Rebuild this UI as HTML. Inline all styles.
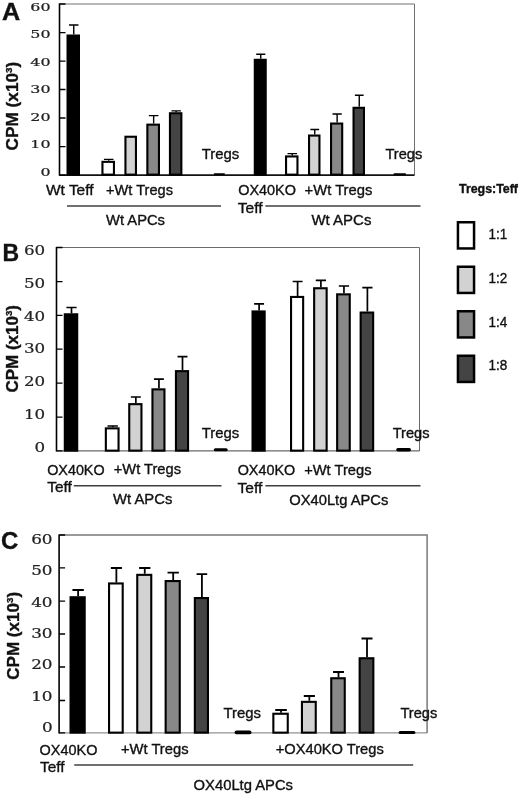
<!DOCTYPE html>
<html lang="en"><head><meta charset="utf-8"><title>Figure</title>
<style>
html,body{margin:0;padding:0;background:#fff}
svg{display:block}
text.s{font-family:"Liberation Sans",Arial,Helvetica,sans-serif;fill:#111;stroke:#111;stroke-width:0.35px}
text.t{font-family:"DejaVu Serif","Liberation Serif",serif;fill:#222;stroke:#222;stroke-width:0.2px}
</style></head><body>
<svg width="520" height="797" viewBox="0 0 520 797">
<rect width="520" height="797" fill="#fff"/>
<path d="M59.5 4.0H414.5V175.1" stroke="#707070" stroke-width="1.0" fill="none"/>
<path d="M59.5 175.1H414.5" stroke="#111" stroke-width="1.6" fill="none"/>
<path d="M59.5 3.4V175.7" stroke="#000" stroke-width="1.6" fill="none"/>
<path d="M59.5 175.10h6M59.5 146.60h6M59.5 118.00h6M59.5 89.50h6M59.5 61.20h6M59.5 32.60h6M59.5 4.00h6" stroke="#000" stroke-width="1.3" fill="none"/>
<text class="t" x="40.40" y="175.51" font-size="11" textLength="10.10" lengthAdjust="spacingAndGlyphs">0</text>
<text class="t" x="30.30" y="148.06" font-size="11" textLength="20.20" lengthAdjust="spacingAndGlyphs">10</text>
<text class="t" x="30.30" y="120.61" font-size="11" textLength="20.20" lengthAdjust="spacingAndGlyphs">20</text>
<text class="t" x="30.30" y="93.16" font-size="11" textLength="20.20" lengthAdjust="spacingAndGlyphs">30</text>
<text class="t" x="30.30" y="65.71" font-size="11" textLength="20.20" lengthAdjust="spacingAndGlyphs">40</text>
<text class="t" x="30.30" y="38.26" font-size="11" textLength="20.20" lengthAdjust="spacingAndGlyphs">50</text>
<text class="t" x="30.30" y="10.81" font-size="11" textLength="20.20" lengthAdjust="spacingAndGlyphs">60</text>
<path d="M73.75 34.50V25.00M69.03 25.00H78.47" stroke="#000" stroke-width="1.4" fill="none"/>
<rect x="67.55" y="35.55" width="11.40" height="139.10" fill="#000" stroke="#000" stroke-width="2.1"/>
<path d="M108.70 160.80V159.40M103.94 159.40H113.46" stroke="#000" stroke-width="1.4" fill="none"/>
<rect x="102.45" y="161.85" width="11.50" height="12.80" fill="#fff" stroke="#000" stroke-width="2.1"/>
<rect x="125.45" y="136.75" width="10.50" height="37.90" fill="#d2d2d2" stroke="#000" stroke-width="2.1"/>
<path d="M153.65 123.60V115.60M148.86 115.60H158.44" stroke="#000" stroke-width="1.4" fill="none"/>
<rect x="147.35" y="124.65" width="11.60" height="50.00" fill="#888" stroke="#000" stroke-width="2.1"/>
<path d="M176.15 112.20V110.90M171.43 110.90H180.88" stroke="#000" stroke-width="1.4" fill="none"/>
<rect x="169.95" y="113.25" width="11.40" height="61.40" fill="#444" stroke="#000" stroke-width="2.1"/>
<rect x="213.75" y="173.20" width="11.25" height="1.80" rx="0.90" fill="#000"/>
<path d="M260.75 58.75V54.25M256.20 54.25H265.30" stroke="#000" stroke-width="1.4" fill="none"/>
<rect x="254.80" y="59.80" width="10.90" height="114.85" fill="#000" stroke="#000" stroke-width="2.1"/>
<path d="M292.25 155.40V153.60M287.52 153.60H296.98" stroke="#000" stroke-width="1.4" fill="none"/>
<rect x="286.05" y="156.45" width="11.40" height="18.20" fill="#fff" stroke="#000" stroke-width="2.1"/>
<path d="M314.75 134.50V129.50M310.38 129.50H319.12" stroke="#000" stroke-width="1.4" fill="none"/>
<rect x="309.05" y="135.55" width="10.40" height="39.10" fill="#d2d2d2" stroke="#000" stroke-width="2.1"/>
<path d="M337.12 122.50V114.00M332.49 114.00H341.76" stroke="#000" stroke-width="1.4" fill="none"/>
<rect x="331.05" y="123.55" width="11.15" height="51.10" fill="#888" stroke="#000" stroke-width="2.1"/>
<path d="M359.25 106.75V95.25M354.88 95.25H363.62" stroke="#000" stroke-width="1.4" fill="none"/>
<rect x="353.55" y="107.80" width="10.40" height="66.85" fill="#444" stroke="#000" stroke-width="2.1"/>
<rect x="393.50" y="173.20" width="12.50" height="1.80" rx="0.90" fill="#000"/>
<text class="s" x="1.9" y="19.8" font-size="24" font-weight="bold" textLength="18.2" lengthAdjust="spacingAndGlyphs">A</text>
<text class="s" transform="translate(17.8 150.40) rotate(-90)" font-size="16.5" font-weight="bold" textLength="88.60" lengthAdjust="spacingAndGlyphs">CPM (x10<tspan font-size="9.4" dy="-5.9">3</tspan><tspan dy="5.9">)</tspan></text>
<text class="s" x="46.00" y="195.30" font-size="14.5" font-weight="normal" textLength="47.50" lengthAdjust="spacingAndGlyphs">Wt Teff</text>
<text class="s" x="106.00" y="195.30" font-size="14.5" font-weight="normal" textLength="67.00" lengthAdjust="spacingAndGlyphs">+Wt Tregs</text>
<path d="M67 206H221" stroke="#404040" stroke-width="1.45"/>
<text class="s" x="106.00" y="224.60" font-size="14.5" font-weight="normal" textLength="59.00" lengthAdjust="spacingAndGlyphs">Wt APCs</text>
<text class="s" x="201.70" y="158.70" font-size="14.5" font-weight="normal" textLength="37.50" lengthAdjust="spacingAndGlyphs">Tregs</text>
<text class="s" x="238.20" y="195.30" font-size="14.5" font-weight="normal" textLength="57.80" lengthAdjust="spacingAndGlyphs">OX40KO</text>
<text class="s" x="304.60" y="195.30" font-size="14.5" font-weight="normal" textLength="67.80" lengthAdjust="spacingAndGlyphs">+Wt Tregs</text>
<text class="s" x="237.80" y="212.90" font-size="14.5" font-weight="normal" textLength="24.80" lengthAdjust="spacingAndGlyphs">Teff</text>
<path d="M265.4 206H420.5" stroke="#404040" stroke-width="1.45"/>
<text class="s" x="311.40" y="224.70" font-size="14.5" font-weight="normal" textLength="60.00" lengthAdjust="spacingAndGlyphs">Wt APCs</text>
<text class="s" x="385.40" y="158.80" font-size="14.5" font-weight="normal" textLength="36.90" lengthAdjust="spacingAndGlyphs">Tregs</text>
<path d="M56.5 247.5H419.5V450.9" stroke="#6a6a6a" stroke-width="1.0" fill="none"/>
<path d="M56.5 450.9H419.5" stroke="#444" stroke-width="1.0" fill="none"/>
<path d="M56.5 246.9V451.5" stroke="#000" stroke-width="1.6" fill="none"/>
<path d="M56.5 450.90h6M56.5 417.10h6M56.5 383.10h6M56.5 349.10h6M56.5 315.30h6M56.5 281.60h6M56.5 247.50h6" stroke="#000" stroke-width="1.3" fill="none"/>
<text class="t" x="34.50" y="452.17" font-size="12" textLength="10.60" lengthAdjust="spacingAndGlyphs">0</text>
<text class="t" x="23.90" y="419.27" font-size="12" textLength="21.20" lengthAdjust="spacingAndGlyphs">10</text>
<text class="t" x="23.90" y="386.37" font-size="12" textLength="21.20" lengthAdjust="spacingAndGlyphs">20</text>
<text class="t" x="23.90" y="353.47" font-size="12" textLength="21.20" lengthAdjust="spacingAndGlyphs">30</text>
<text class="t" x="23.90" y="320.57" font-size="12" textLength="21.20" lengthAdjust="spacingAndGlyphs">40</text>
<text class="t" x="23.90" y="287.67" font-size="12" textLength="21.20" lengthAdjust="spacingAndGlyphs">50</text>
<text class="t" x="23.90" y="254.77" font-size="12" textLength="21.20" lengthAdjust="spacingAndGlyphs">60</text>
<path d="M71.50 313.25V307.50M66.42 307.50H76.58" stroke="#000" stroke-width="1.7" fill="none"/>
<rect x="64.80" y="314.30" width="12.40" height="136.35" fill="#000" stroke="#000" stroke-width="2.1"/>
<path d="M112.70 427.30V426.00M107.52 426.00H117.88" stroke="#000" stroke-width="1.7" fill="none"/>
<rect x="105.85" y="428.35" width="12.70" height="22.30" fill="#fff" stroke="#000" stroke-width="2.1"/>
<path d="M135.85 403.10V397.00M130.84 397.00H140.85" stroke="#000" stroke-width="1.7" fill="none"/>
<rect x="129.25" y="404.15" width="12.20" height="46.50" fill="#d2d2d2" stroke="#000" stroke-width="2.1"/>
<path d="M158.95 388.30V379.20M154.01 379.20H163.88" stroke="#000" stroke-width="1.7" fill="none"/>
<rect x="152.45" y="389.35" width="12.00" height="61.30" fill="#888" stroke="#000" stroke-width="2.1"/>
<path d="M182.50 370.10V356.60M177.53 356.60H187.47" stroke="#000" stroke-width="1.7" fill="none"/>
<rect x="175.95" y="371.15" width="12.10" height="79.50" fill="#444" stroke="#000" stroke-width="2.1"/>
<rect x="213.80" y="448.30" width="13.90" height="3.00" rx="1.50" fill="#000"/>
<path d="M259.10 310.40V303.80M254.13 303.80H264.07" stroke="#000" stroke-width="1.7" fill="none"/>
<rect x="252.55" y="311.45" width="12.10" height="139.20" fill="#000" stroke="#000" stroke-width="2.1"/>
<path d="M297.60 295.90V281.50M292.63 281.50H302.57" stroke="#000" stroke-width="1.7" fill="none"/>
<rect x="291.05" y="296.95" width="12.10" height="153.70" fill="#fff" stroke="#000" stroke-width="2.1"/>
<path d="M320.90 287.20V280.40M315.79 280.40H326.01" stroke="#000" stroke-width="1.7" fill="none"/>
<rect x="314.15" y="288.25" width="12.50" height="162.40" fill="#d2d2d2" stroke="#000" stroke-width="2.1"/>
<path d="M343.95 293.30V286.00M338.81 286.00H349.10" stroke="#000" stroke-width="1.7" fill="none"/>
<rect x="337.15" y="294.35" width="12.60" height="156.30" fill="#888" stroke="#000" stroke-width="2.1"/>
<path d="M367.40 311.50V287.70M362.29 287.70H372.51" stroke="#000" stroke-width="1.7" fill="none"/>
<rect x="360.65" y="312.55" width="12.50" height="138.10" fill="#444" stroke="#000" stroke-width="2.1"/>
<rect x="396.20" y="448.00" width="14.80" height="3.60" rx="1.80" fill="#000"/>
<text class="s" x="2.6" y="260.8" font-size="23" font-weight="bold">B</text>
<text class="s" transform="translate(17.8 392.60) rotate(-90)" font-size="16.5" font-weight="bold" textLength="87.60" lengthAdjust="spacingAndGlyphs">CPM (x10<tspan font-size="9.4" dy="-5.9">3</tspan><tspan dy="5.9">)</tspan></text>
<text class="s" x="47.20" y="474.50" font-size="14.5" font-weight="normal" textLength="57.40" lengthAdjust="spacingAndGlyphs">OX40KO</text>
<text class="s" x="113.80" y="474.40" font-size="14.5" font-weight="normal" textLength="67.20" lengthAdjust="spacingAndGlyphs">+Wt Tregs</text>
<text class="s" x="47.20" y="492.30" font-size="14.5" font-weight="normal" textLength="24.60" lengthAdjust="spacingAndGlyphs">Teff</text>
<path d="M73.75 485.8H221.5" stroke="#404040" stroke-width="1.45"/>
<text class="s" x="113.00" y="503.60" font-size="14.5" font-weight="normal" textLength="59.30" lengthAdjust="spacingAndGlyphs">Wt APCs</text>
<text class="s" x="201.70" y="438.10" font-size="14.5" font-weight="normal" textLength="37.50" lengthAdjust="spacingAndGlyphs">Tregs</text>
<text class="s" x="237.70" y="474.90" font-size="14.5" font-weight="normal" textLength="57.50" lengthAdjust="spacingAndGlyphs">OX40KO</text>
<text class="s" x="304.20" y="474.90" font-size="14.5" font-weight="normal" textLength="67.30" lengthAdjust="spacingAndGlyphs">+Wt Tregs</text>
<text class="s" x="237.60" y="492.60" font-size="14.5" font-weight="normal" textLength="24.80" lengthAdjust="spacingAndGlyphs">Teff</text>
<path d="M265.4 485.8H420.5" stroke="#404040" stroke-width="1.45"/>
<text class="s" x="289.20" y="504.80" font-size="14.5" font-weight="normal" textLength="99.20" lengthAdjust="spacingAndGlyphs">OX40Ltg APCs</text>
<text class="s" x="392.70" y="437.60" font-size="14.5" font-weight="normal" textLength="36.90" lengthAdjust="spacingAndGlyphs">Tregs</text>
<path d="M59.1 535.0H427.1V732.9" stroke="#7a7a7a" stroke-width="1.5" fill="none"/>
<path d="M59.1 732.9H427.1" stroke="#777" stroke-width="1.0" fill="none"/>
<path d="M59.1 534.4V733.5" stroke="#000" stroke-width="1.6" fill="none"/>
<path d="M59.1 732.90h6M59.1 700.50h6M59.1 667.00h6M59.1 634.00h6M59.1 601.20h6M59.1 567.80h6M59.1 535.00h6" stroke="#000" stroke-width="1.3" fill="none"/>
<text class="t" x="41.90" y="732.37" font-size="12" textLength="10.70" lengthAdjust="spacingAndGlyphs">0</text>
<text class="t" x="31.20" y="700.92" font-size="12" textLength="21.40" lengthAdjust="spacingAndGlyphs">10</text>
<text class="t" x="31.20" y="669.47" font-size="12" textLength="21.40" lengthAdjust="spacingAndGlyphs">20</text>
<text class="t" x="31.20" y="638.02" font-size="12" textLength="21.40" lengthAdjust="spacingAndGlyphs">30</text>
<text class="t" x="31.20" y="606.57" font-size="12" textLength="21.40" lengthAdjust="spacingAndGlyphs">40</text>
<text class="t" x="31.20" y="575.12" font-size="12" textLength="21.40" lengthAdjust="spacingAndGlyphs">50</text>
<text class="t" x="31.20" y="543.67" font-size="12" textLength="21.40" lengthAdjust="spacingAndGlyphs">60</text>
<path d="M78.12 596.20V590.00M72.44 590.00H83.81" stroke="#000" stroke-width="1.8" fill="none"/>
<rect x="70.55" y="597.25" width="14.15" height="135.40" fill="#000" stroke="#000" stroke-width="2.1"/>
<path d="M116.38 582.40V568.00M110.86 568.00H121.89" stroke="#000" stroke-width="1.8" fill="none"/>
<rect x="109.05" y="583.45" width="13.65" height="149.20" fill="#fff" stroke="#000" stroke-width="2.1"/>
<path d="M144.75 573.80V568.00M139.11 568.00H150.39" stroke="#000" stroke-width="1.8" fill="none"/>
<rect x="137.25" y="574.85" width="14.00" height="157.80" fill="#d2d2d2" stroke="#000" stroke-width="2.1"/>
<path d="M173.20 580.00V572.70M167.53 572.70H178.87" stroke="#000" stroke-width="1.8" fill="none"/>
<rect x="165.65" y="581.05" width="14.10" height="151.60" fill="#888" stroke="#000" stroke-width="2.1"/>
<path d="M201.90 597.00V574.20M196.58 574.20H207.22" stroke="#000" stroke-width="1.8" fill="none"/>
<rect x="194.85" y="598.05" width="13.10" height="134.60" fill="#444" stroke="#000" stroke-width="2.1"/>
<rect x="234.60" y="730.40" width="16.90" height="3.80" rx="1.80" fill="#000"/>
<path d="M281.05 712.70V710.00M275.28 710.00H286.82" stroke="#000" stroke-width="1.8" fill="none"/>
<rect x="273.35" y="713.75" width="14.40" height="18.90" fill="#fff" stroke="#000" stroke-width="2.1"/>
<path d="M309.35 700.80V696.00M303.79 696.00H314.92" stroke="#000" stroke-width="1.8" fill="none"/>
<rect x="301.95" y="701.85" width="13.80" height="30.80" fill="#d2d2d2" stroke="#000" stroke-width="2.1"/>
<path d="M338.50 677.20V672.00M333.04 672.00H343.96" stroke="#000" stroke-width="1.8" fill="none"/>
<rect x="331.25" y="678.25" width="13.50" height="54.40" fill="#888" stroke="#000" stroke-width="2.1"/>
<path d="M367.00 657.20V638.50M361.47 638.50H372.53" stroke="#000" stroke-width="1.8" fill="none"/>
<rect x="359.65" y="658.25" width="13.70" height="74.40" fill="#444" stroke="#000" stroke-width="2.1"/>
<rect x="398.60" y="731.00" width="16.80" height="3.00" rx="1.50" fill="#000"/>
<text class="s" x="1.0" y="549.3" font-size="24" font-weight="bold">C</text>
<text class="s" transform="translate(18.5 679.80) rotate(-90)" font-size="16.5" font-weight="bold" textLength="87.90" lengthAdjust="spacingAndGlyphs">CPM (x10<tspan font-size="9.4" dy="-5.9">3</tspan><tspan dy="5.9">)</tspan></text>
<text class="s" x="39.60" y="754.50" font-size="14.5" font-weight="normal" textLength="57.80" lengthAdjust="spacingAndGlyphs">OX40KO</text>
<text class="s" x="40.00" y="771.70" font-size="14.5" font-weight="normal" textLength="24.50" lengthAdjust="spacingAndGlyphs">Teff</text>
<text class="s" x="121.00" y="754.00" font-size="14.5" font-weight="normal" textLength="67.50" lengthAdjust="spacingAndGlyphs">+Wt Tregs</text>
<text class="s" x="223.50" y="717.80" font-size="14.5" font-weight="normal" textLength="37.50" lengthAdjust="spacingAndGlyphs">Tregs</text>
<text class="s" x="275.70" y="753.70" font-size="14.5" font-weight="normal" textLength="108.10" lengthAdjust="spacingAndGlyphs">+OX40KO Tregs</text>
<text class="s" x="400.40" y="717.70" font-size="14.5" font-weight="normal" textLength="37.00" lengthAdjust="spacingAndGlyphs">Tregs</text>
<path d="M74.25 765.0H413.2" stroke="#404040" stroke-width="1.45"/>
<text class="s" x="193.60" y="790.40" font-size="14.5" font-weight="normal" textLength="99.40" lengthAdjust="spacingAndGlyphs">OX40Ltg APCs</text>
<text class="s" x="459.00" y="193.40" font-size="12" font-weight="bold" textLength="59.00" lengthAdjust="spacingAndGlyphs">Tregs:Teff</text>
<rect x="457.95" y="222.25" width="16.1" height="26.2" fill="#fff" stroke="#000" stroke-width="2.5"/>
<text class="s" x="488.40" y="239.30" font-size="14.5" font-weight="normal" textLength="18.80" lengthAdjust="spacingAndGlyphs">1:1</text>
<rect x="457.95" y="266.75" width="16.1" height="26.2" fill="#d2d2d2" stroke="#000" stroke-width="2.5"/>
<text class="s" x="488.40" y="282.90" font-size="14.5" font-weight="normal" textLength="18.80" lengthAdjust="spacingAndGlyphs">1:2</text>
<rect x="457.95" y="311.25" width="16.1" height="26.2" fill="#888" stroke="#000" stroke-width="2.5"/>
<text class="s" x="488.40" y="326.50" font-size="14.5" font-weight="normal" textLength="18.80" lengthAdjust="spacingAndGlyphs">1:4</text>
<rect x="457.95" y="355.75" width="16.1" height="26.2" fill="#444" stroke="#000" stroke-width="2.5"/>
<text class="s" x="488.40" y="370.10" font-size="14.5" font-weight="normal" textLength="18.80" lengthAdjust="spacingAndGlyphs">1:8</text>
</svg>
</body></html>
